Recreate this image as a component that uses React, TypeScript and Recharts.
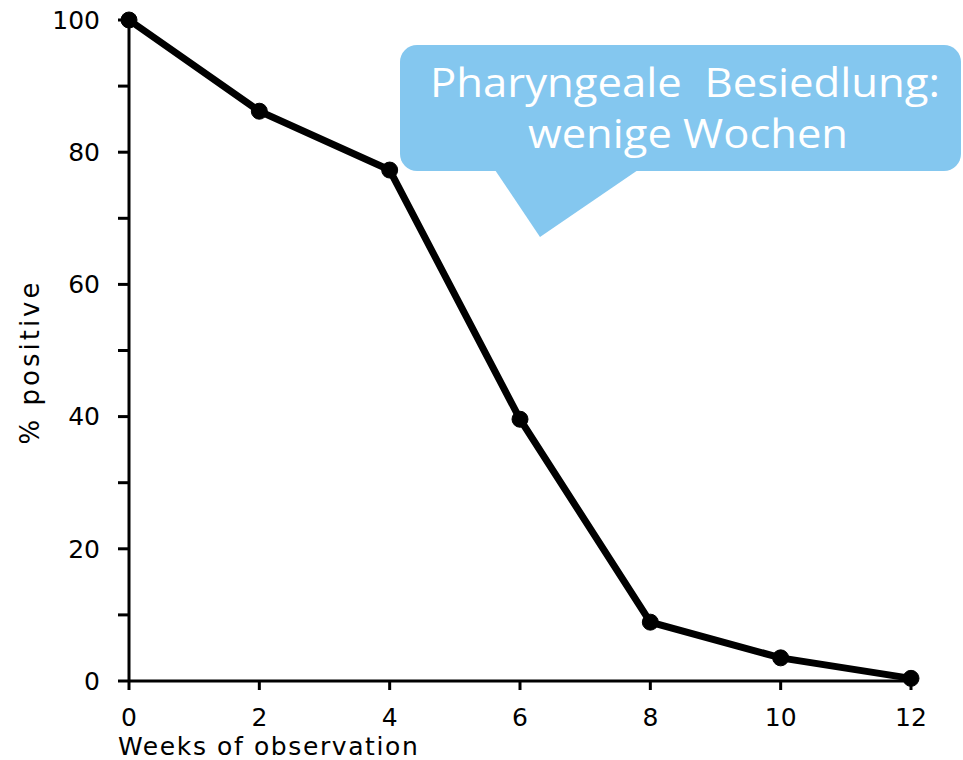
import React from "react";
import { LineChart, Line, XAxis, YAxis, Label } from "recharts";

// weeks of observation and share of carriers still positive
const weeks = [0, 2, 4, 6, 8, 10, 12];
const percentPositive = [100, 86.2, 77.3, 39.6, 8.9, 3.5, 0.4];
const xTicks = [0, 2, 4, 6, 8, 10, 12];
const yTicks = [0, 10, 20, 30, 40, 50, 60, 70, 80, 90, 100];
const calloutLines = ["Pharyngeale  Besiedlung:", "wenige Wochen"];

const data = weeks.map((w, i) => ({ week: w, positive: percentPositive[i] }));

const font = "'DejaVu Sans', sans-serif";

const XTitle = ({ viewBox }: any) => (
  <text
    x={viewBox.x - 11}
    y={viewBox.y + 74}
    fontFamily={font}
    fontSize={25}
    letterSpacing={1.6}
    fill="#000"
  >
    Weeks of observation
  </text>
);

const YTitle = () => (
  <text
    x={30}
    y={362}
    transform="rotate(-90 30 362)"
    textAnchor="middle"
    dominantBaseline="central"
    fontFamily={font}
    fontSize={26}
    letterSpacing={3}
    fill="#000"
  >
    % positive
  </text>
);

const Callout = () => (
  <svg
    width={963}
    height={760}
    style={{ position: "absolute", left: 0, top: 0, pointerEvents: "none" }}
  >
    <rect x={400} y={45} width={561} height={126} rx={17} fill="#84c7ef" />
    <polygon points="495,170 540,237 638,170" fill="#84c7ef" />
    <text
      x={685}
      y={97}
      textAnchor="middle"
      fontFamily="'Open Sans', sans-serif"
      fontSize={40}
      fill="#fff"
      textLength={510}
      lengthAdjust="spacingAndGlyphs"
      style={{ whiteSpace: "pre" }}
    >
      {calloutLines[0]}
    </text>
    <text
      x={688}
      y={148}
      textAnchor="middle"
      fontFamily="'Open Sans', sans-serif"
      fontSize={40}
      fill="#fff"
      textLength={320}
      lengthAdjust="spacingAndGlyphs"
    >
      {calloutLines[1]}
    </text>
  </svg>
);

export default function App() {
  return (
    <div style={{ position: "relative", width: 963, height: 760, background: "#fff" }}>
      <style>{"body{margin:0}"}</style>
      <LineChart
        width={963}
        height={760}
        data={data}
        margin={{ top: 20, right: 52, bottom: 0, left: 0 }}
      >
        <XAxis
          dataKey="week"
          type="number"
          domain={[0, 12]}
          ticks={xTicks}
          height={79}
          stroke="#000"
          strokeWidth={3}
          tickSize={9}
          tickMargin={18}
          tick={{ fill: "#000", fontFamily: font, fontSize: 25 }}
          interval={0}
        >
          <Label content={<XTitle />} />
        </XAxis>
        <YAxis
          type="number"
          domain={[0, 100]}
          ticks={yTicks}
          width={129}
          stroke="#000"
          strokeWidth={3}
          tickSize={11}
          tickMargin={18}
          interval={0}
          tickFormatter={(v: number) => (v % 20 === 0 ? String(v) : "")}
          tick={{ fill: "#000", fontFamily: font, fontSize: 25 }}
        >
          <Label content={<YTitle />} />
        </YAxis>
        <Line
          type="linear"
          dataKey="positive"
          stroke="#000"
          strokeWidth={7}
          dot={{ r: 8, fill: "#000", stroke: "#000", strokeWidth: 1 }}
          isAnimationActive={false}
        />
      </LineChart>
      <Callout />
    </div>
  );
}
